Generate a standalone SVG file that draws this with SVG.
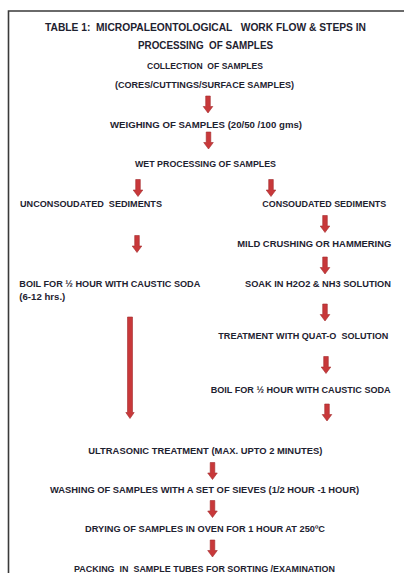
<svg xmlns="http://www.w3.org/2000/svg" xmlns:xlink="http://www.w3.org/1999/xlink" width="404" height="573" viewBox="0 0 404 573">
<style>
text{font-family:"Liberation Sans",Arial,sans-serif;font-weight:bold;fill:#1e2230;font-size:9px;white-space:pre}
.t{font-size:11px}
.arr{fill:#c8383a;stroke:#a32b2d;stroke-width:0.6}
.frame{fill:none;stroke:#3a3a3a;stroke-width:1.6}
</style>
<defs>
<path id="a" d="M-2.3,0 H2.3 V10.5 H4.8 L0,17 L-4.8,10.5 H-2.3 Z"/>
</defs>
<rect width="404" height="573" fill="#fff"/>
<path class="frame" d="M8.5,573 V11 H404"/>
<g id="title">
<text class="t" x="45" y="31" textLength="321" lengthAdjust="spacingAndGlyphs">TABLE 1:  MICROPALEONTOLOGICAL   WORK FLOW &amp; STEPS IN</text>
<text class="t" x="138" y="48.5" textLength="135" lengthAdjust="spacingAndGlyphs">PROCESSING  OF SAMPLES</text>
</g>
<g id="collection">
<text x="147" y="68.5" textLength="116" lengthAdjust="spacingAndGlyphs">COLLECTION  OF SAMPLES</text>
<text x="115" y="88" textLength="179" lengthAdjust="spacingAndGlyphs">(CORES/CUTTINGS/SURFACE SAMPLES)</text>
</g>
<g id="weighing"><text x="110" y="127.7" textLength="192" lengthAdjust="spacingAndGlyphs">WEIGHING OF SAMPLES (20/50 /100 gms)</text></g>
<g id="wet"><text x="135" y="167.3" textLength="141" lengthAdjust="spacingAndGlyphs">WET PROCESSING OF SAMPLES</text></g>
<g id="unconsolidated"><text x="20" y="207.3" textLength="142" lengthAdjust="spacingAndGlyphs">UNCONSOUDATED  SEDIMENTS</text></g>
<g id="consolidated"><text x="262.3" y="207.3" textLength="124" lengthAdjust="spacingAndGlyphs">CONSOUDATED SEDIMENTS</text></g>
<g id="crushing"><text x="237.3" y="246.7" textLength="154" lengthAdjust="spacingAndGlyphs">MILD CRUSHING OR HAMMERING</text></g>
<g id="boil-left">
<text x="19.3" y="286.7" textLength="181" lengthAdjust="spacingAndGlyphs">BOIL FOR ½ HOUR WITH CAUSTIC SODA</text>
<text x="19.3" y="300" textLength="46" lengthAdjust="spacingAndGlyphs">(6-12 hrs.)</text>
</g>
<g id="soak"><text x="245" y="286.7" textLength="146" lengthAdjust="spacingAndGlyphs">SOAK IN H2O2 &amp; NH3 SOLUTION</text></g>
<g id="quat"><text x="218.3" y="339.3" textLength="170" lengthAdjust="spacingAndGlyphs">TREATMENT WITH QUAT-O  SOLUTION</text></g>
<g id="boil-right"><text x="210.7" y="392.7" textLength="180" lengthAdjust="spacingAndGlyphs">BOIL FOR ½ HOUR WITH CAUSTIC SODA</text></g>
<g id="ultrasonic"><text x="88.3" y="454" textLength="234" lengthAdjust="spacingAndGlyphs">ULTRASONIC TREATMENT (MAX. UPTO 2 MINUTES)</text></g>
<g id="washing"><text x="50" y="493.3" textLength="309" lengthAdjust="spacingAndGlyphs">WASHING OF SAMPLES WITH A SET OF SIEVES (1/2 HOUR -1 HOUR)</text></g>
<g id="drying"><text x="85" y="532.3" textLength="240" lengthAdjust="spacingAndGlyphs">DRYING OF SAMPLES IN OVEN FOR 1 HOUR AT 250ºC</text></g>
<g id="packing"><text x="74" y="572" textLength="261" lengthAdjust="spacingAndGlyphs">PACKING  IN  SAMPLE TUBES FOR SORTING /EXAMINATION</text></g>
<g id="connectors">
<use href="#a" xlink:href="#a" class="arr" x="208" y="96"/>
<use href="#a" xlink:href="#a" class="arr" x="208.5" y="132"/>
<use href="#a" xlink:href="#a" class="arr" x="138" y="179.5"/>
<use href="#a" xlink:href="#a" class="arr" x="271" y="179.5"/>
<use href="#a" xlink:href="#a" class="arr" x="325" y="215.5"/>
<use href="#a" xlink:href="#a" class="arr" x="137" y="235.5"/>
<use href="#a" xlink:href="#a" class="arr" x="325" y="257"/>
<use href="#a" xlink:href="#a" class="arr" x="325" y="304"/>
<use href="#a" xlink:href="#a" class="arr" x="326" y="356.5"/>
<use href="#a" xlink:href="#a" class="arr" x="327" y="404"/>
<path class="arr" d="M127.5,317 H132.5 V412.5 H134.2 L130,418.5 L125.8,412.5 H127.5 Z"/>
<use href="#a" xlink:href="#a" class="arr" x="212.5" y="462.5"/>
<use href="#a" xlink:href="#a" class="arr" x="212.5" y="500.5"/>
<use href="#a" xlink:href="#a" class="arr" x="212.5" y="540"/>
</g>
</svg>
